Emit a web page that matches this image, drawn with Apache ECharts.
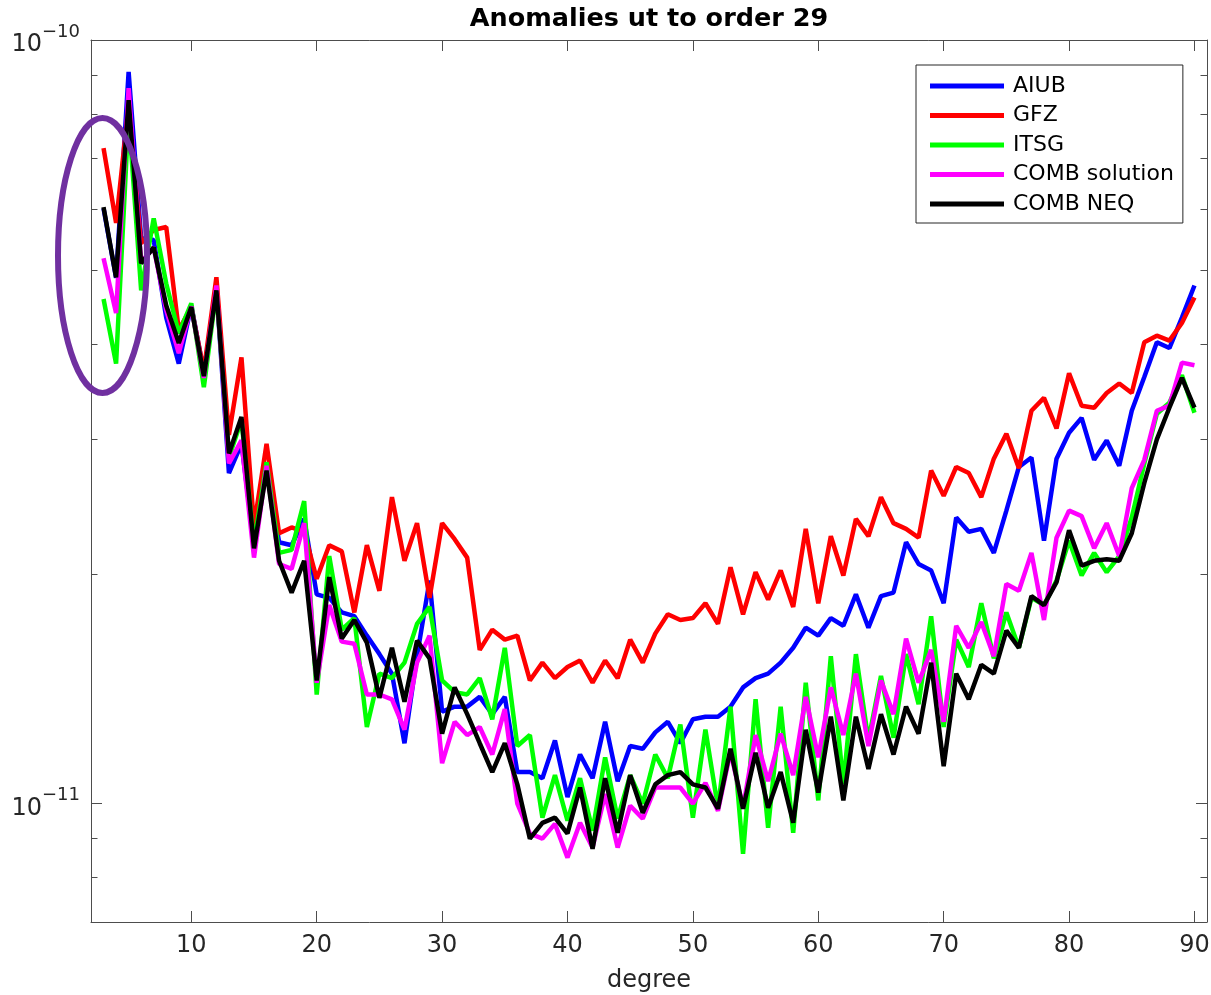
<!DOCTYPE html>
<html><head><meta charset="utf-8">
<script src="https://cdn.jsdelivr.net/npm/echarts@6.0.0/dist/echarts.min.js"></script>
<style>html,body{margin:0;padding:0;background:#fff}#c{width:1211px;height:995px}</style>
</head><body><div id="c"></div>
<script>
// degree (x values)
const degrees = [3,4,5,6,7,8,9,10,11,12,13,14,15,16,17,18,19,20,21,22,23,24,25,26,27,28,29,30,31,32,33,34,35,36,37,38,39,40,41,42,43,44,45,46,47,48,49,50,51,52,53,54,55,56,57,58,59,60,61,62,63,64,65,66,67,68,69,70,71,72,73,74,75,76,77,78,79,80,81,82,83,84,85,86,87,88,89,90];
// values in units of 1e-12
const UNIT = 1e-12;
const aiub = [60.2,48.8,90.8,55.0,54.7,43.3,37.7,44.9,36.7,47.3,
  27.1,29.6,21.9,27.6,22.0,21.8,23.6,18.8,18.6,17.8,
  17.6,16.6,15.7,14.8,12.0,15.6,19.6,13.2,13.4,13.4,
  13.8,13.1,13.8,11.0,11.0,10.8,12.1,10.2,11.6,10.8,
  12.8,10.7,11.9,11.8,12.4,12.8,12.0,12.9,13.0,13.0,
  13.4,14.2,14.6,14.8,15.3,16.0,17.0,16.6,17.5,17.1,
  18.8,17.0,18.7,18.9,22.0,20.6,20.2,18.3,23.7,22.7,
  22.9,21.3,24.2,27.6,28.4,22.1,28.3,30.6,32.0,28.2,
  29.9,27.7,32.7,36.2,40.2,39.5,43.3,47.7];
const gfz = [72.2,57.6,82.2,54.2,56.4,56.9,41.7,44.7,36.9,48.9,
  30.4,38.4,23.1,29.6,22.6,23.0,22.7,19.7,21.8,21.4,
  17.8,21.8,19.0,25.2,20.8,23.3,18.6,23.3,22.2,21.0,
  15.9,16.9,16.4,16.6,14.5,15.3,14.6,15.1,15.4,14.4,
  15.4,14.6,16.4,15.3,16.7,17.7,17.4,17.5,18.3,17.2,
  20.4,17.7,20.1,18.5,20.2,18.1,22.9,18.3,22.4,19.9,
  23.6,22.4,25.2,23.3,22.9,22.3,27.3,25.3,27.6,27.1,
  25.2,28.3,30.5,27.5,32.7,34.0,31.0,36.6,33.2,33.0,
  34.5,35.5,34.5,40.2,41.0,40.4,42.6,46.0];
const itsg = [45.8,37.7,79.7,47.0,58.4,48.0,41.3,45.2,35.1,47.0,
  28.4,31.8,21.9,28.0,21.3,21.5,24.9,13.9,21.1,16.9,
  17.5,12.6,14.8,14.6,15.3,17.2,18.1,14.5,14.0,13.9,
  14.6,12.9,16.0,11.9,12.3,9.59,10.9,9.50,10.8,9.22,
  11.5,9.56,10.9,10.0,11.6,10.8,12.7,9.59,12.5,9.88,
  13.4,8.60,13.7,9.30,13.4,9.16,14.4,10.1,15.6,10.6,
  15.7,12.1,14.7,12.2,15.7,13.5,17.6,12.6,16.4,15.1,
  18.3,15.5,17.8,16.0,18.6,18.2,19.6,22.1,19.9,21.3,
  20.1,21.1,23.7,27.9,32.4,33.5,36.4,32.5];
const combSolution = [51.8,43.9,86.5,51.2,53.5,44.3,38.9,44.8,36.1,47.7,
  27.9,29.9,21.0,27.7,20.6,20.3,23.3,14.4,18.2,16.3,
  16.2,13.9,13.9,13.7,12.5,15.3,16.6,11.3,12.8,12.3,
  12.6,11.6,13.3,10.0,9.14,9.00,9.41,8.50,9.44,8.76,
  10.3,8.76,9.94,9.56,10.5,10.5,10.5,10.0,10.65,9.79,
  11.7,9.88,12.3,10.7,12.35,10.9,13.8,11.5,14.2,12.3,
  14.8,11.9,14.5,13.1,16.45,14.4,15.9,12.8,17.1,16.0,
  17.3,15.6,19.4,19.0,21.3,17.4,22.3,24.2,23.8,21.6,
  23.3,21.1,25.9,28.2,32.7,33.2,37.8,37.5];
const combNeq = [60.4,48.9,83.4,51.0,53.5,44.9,40.1,44.7,36.3,47.0,
  28.75,32.1,21.6,27.3,20.8,18.9,20.8,14.5,19.8,16.45,
  17.4,16.25,13.76,16.0,13.6,16.35,15.5,12.35,14.2,13.1,
  12.0,11.0,12.0,10.6,9.0,9.44,9.59,9.14,10.5,8.73,
  10.8,9.16,10.9,9.73,10.6,10.9,11.0,10.6,10.5,9.85,
  11.8,9.85,11.66,9.88,11.0,9.44,12.5,10.34,13.0,10.1,
  13.0,11.1,13.1,11.6,13.4,12.35,15.3,11.2,14.8,13.7,
  15.2,14.8,16.85,16.0,18.7,18.2,19.5,22.8,20.5,20.8,
  20.9,20.8,22.6,26.3,30.0,33.0,36.1,33.0];

const seriesNames = ['AIUB','GFZ','ITSG','COMB solution','COMB NEQ'];
const seriesColors = ['#0000ff','#ff0000','#00ff00','#ff00ff','#000000'];
const seriesValues = [aiub,gfz,itsg,combSolution,combNeq];

const xTicks = [10,20,30,40,50,60,70,80,90];
const yMajor = [1e-11,1e-10];
const yMinor = [8e-12,9e-12,2e-11,3e-11,4e-11,5e-11,6e-11,7e-11,8e-11,9e-11];

const FONT = 'DejaVu Sans';
const AXC = '#4d4d4d';
const TXT = '#262626';

function xAx(pos, labels) {
  return {
    type:'value', position:pos, min:2, max:91,
    splitLine:{show:false},
    axisLine:{show:true, onZero:false, lineStyle:{color:AXC, width:1}},
    axisTick:{show:true, inside:true, length:11, customValues:xTicks, lineStyle:{color:AXC}},
    axisLabel: labels ? {show:true, customValues:xTicks, fontSize:24, fontFamily:FONT, color:TXT, margin:12} : {show:false},
    name: labels ? 'degree' : '', nameLocation:'middle', nameGap:47,
    nameTextStyle:{fontSize:24, fontFamily:FONT, color:TXT}
  };
}
function yAx(pos, ticks, len, labels, line) {
  return {
    type:'log', logBase:10, position:pos, min:7e-12, max:1e-10,
    splitLine:{show:false},
    axisLine:{show:line, onZero:false, lineStyle:{color:AXC, width:1}},
    axisTick:{show:true, inside:true, length:len, customValues:ticks, lineStyle:{color:AXC}},
    axisLabel: labels ? {
      show:true, customValues:ticks, margin:11,
      formatter: function(v){ const e = Math.round(Math.log10(v)); return '{b|10}{s|' + (e<0?'\u2212':'') + Math.abs(e) + '}'; },
      rich:{ b:{fontSize:24, fontFamily:FONT, color:TXT, padding:[10,0,0,0]}, s:{fontSize:18, fontFamily:FONT, color:TXT, verticalAlign:'top'} }
    } : {show:false}
  };
}

const chart = echarts.init(document.getElementById('c'), null, {renderer:'canvas'});
chart.setOption({
  animation:false,
  backgroundColor:'#fff',
  title:{ text:'Anomalies ut to order 29', left:649, top:6, padding:0, textAlign:'center',
    textStyle:{fontSize:25.5, fontWeight:'bold', fontFamily:FONT, color:'#000'} },
  grid:{ left:91, right:4, top:40, bottom:73, containLabel:false, outerBoundsMode:'none' },
  xAxis:[ xAx('bottom', true), xAx('top', false) ],
  yAxis:[ yAx('left', yMajor, 11, true, true), yAx('right', yMajor, 11, false, true),
          yAx('left', yMinor, 6.5, false, false), yAx('right', yMinor, 6.5, false, false) ],
  legend:{ orient:'vertical', left:916, top:65, padding:[10,9,8,14], itemGap:7.5,
    itemWidth:74, itemHeight:5, icon:'rect',
    textStyle:{fontSize:22, fontFamily:FONT, color:'#000', lineHeight:22, padding:[0,0,0,4]},
    borderColor:'#262626', borderWidth:1, backgroundColor:'#fff', borderRadius:0,
    itemStyle:{borderWidth:0} },
  series: seriesNames.map((n,k)=>({
    name:n, type:'line', xAxisIndex:0, yAxisIndex:0, symbol:'none', showSymbol:false,
    color:seriesColors[k],
    lineStyle:{width:4.5, color:seriesColors[k]},
    z: 2+k,
    data: degrees.map((d,i)=>[d, seriesValues[k][i]*UNIT])
  })),
  graphic:[{ type:'ellipse', z:100, silent:true,
    shape:{cx:102.5, cy:255.5, rx:44.5, ry:137.5},
    style:{fill:'none', stroke:'#7030a0', lineWidth:6} }]
});
</script></body></html>
